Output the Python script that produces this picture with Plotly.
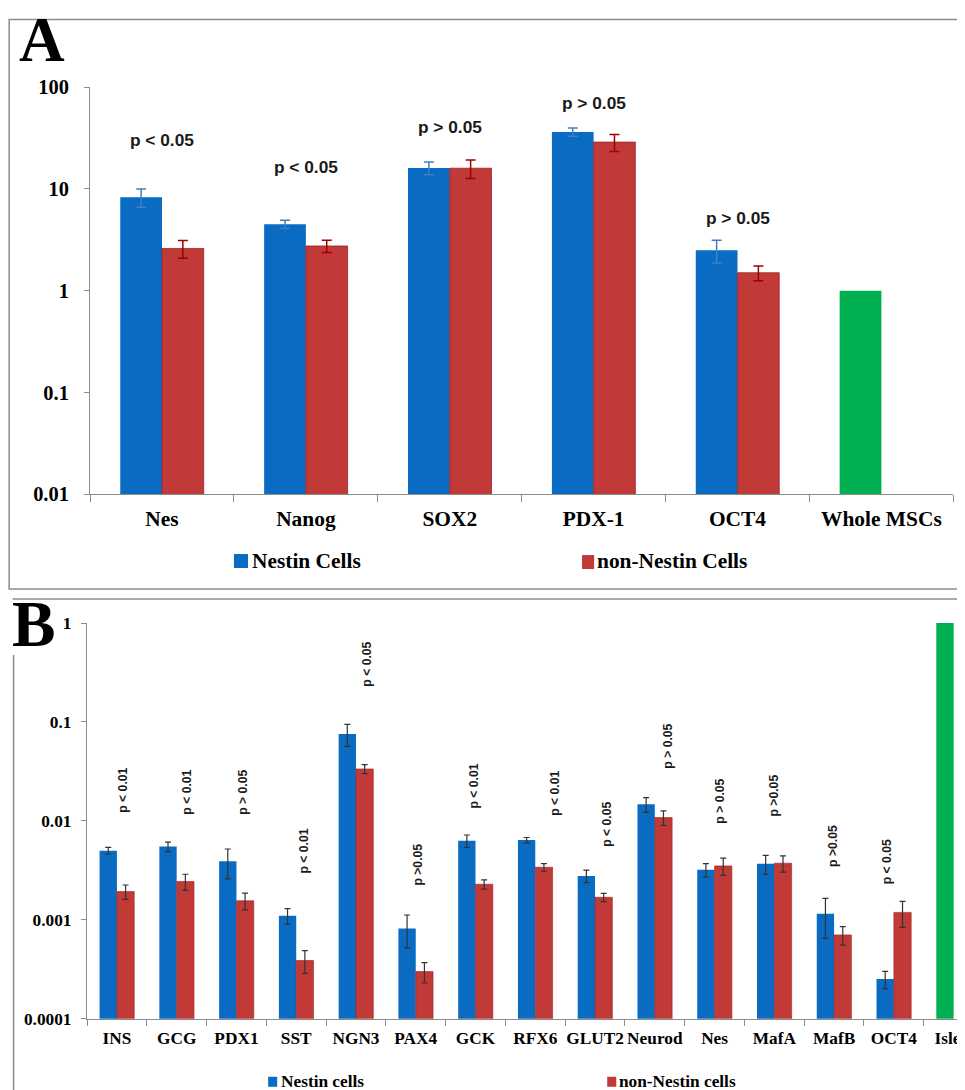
import plotly.graph_objects as go

# ---------------- Panel A data ----------------
genes_a = ["Nes", "Nanog", "SOX2", "PDX-1", "OCT4"]
reference_a = "Whole MSCs"
reference_a_value = 1.0
nestin_a = [8.3, 4.5, 16.1, 36.3, 2.5]
nestin_a_err = [1.7, 0.42, 2.3, 3.4, 0.63]
non_nestin_a = [2.6, 2.75, 16.0, 28.9, 1.5]
non_nestin_a_err = [0.52, 0.38, 3.3, 5.5, 0.25]
p_text_a = ["p < 0.05", "p < 0.05", "p > 0.05", "p > 0.05", "p > 0.05"]
p_label_logy_a = [1.48, 1.22, 1.61, 1.85, 0.71]
yticks_a = [0.01, 0.1, 1, 10, 100]
yticktext_a = ["0.01", "0.1", "1", "10", "100"]

# ---------------- Panel B data ----------------
genes_b = ["INS", "GCG", "PDX1", "SST", "NGN3", "PAX4", "GCK", "RFX6",
           "GLUT2", "Neurod", "Nes", "MafA", "MafB", "OCT4"]
reference_b = "Islets"
reference_b_value = 1.0
nestin_b = [0.0050, 0.0055, 0.0039, 0.0011, 0.0757, 0.00082, 0.0063, 0.0064,
            0.00278, 0.0147, 0.0032, 0.00368, 0.00115, 0.000252]
nestin_b_err = [0.0004, 0.0006, 0.0013, 0.0002, 0.019, 0.0003, 0.0009, 0.0004,
                0.0004, 0.0025, 0.0005, 0.0008, 0.0005, 0.00005]
non_nestin_b = [0.00193, 0.00244, 0.00156, 0.000388, 0.0335, 0.00030, 0.00229, 0.0034,
                0.00169, 0.0108, 0.00351, 0.00374, 0.000705, 0.00119]
non_nestin_b_err = [0.00032, 0.00045, 0.0003, 0.0001, 0.0035, 0.00007, 0.00025, 0.0003,
                    0.00016, 0.0018, 0.0007, 0.0007, 0.00015, 0.00035]
p_text_b = ["p < 0.01", "p < 0.01", "p > 0.05", "p < 0.01", "p < 0.05", "p >0.05", "p < 0.01",
            "p < 0.01", "p < 0.05", "p > 0.05", "p > 0.05", "p >0.05", "p >0.05", "p < 0.05"]
p_label_logy_b = [-1.69, -1.71, -1.71, -2.30, -0.42, -2.44, -1.65, -1.72,
                  -2.03, -1.24, -1.80, -1.74, -2.25, -2.41]
p_label_dx_b = [0.11, 0.18, 0.12, 0.13, 0.17, 0.04, -0.02, 0.34, 0.2, 0.22, 0.1, 0.0, -0.03, -0.1]
yticks_b = [0.0001, 0.001, 0.01, 0.1, 1]
yticktext_b = ["0.0001", "0.001", "0.01", "0.1", "1"]

BLUE = "#0A6BC2"
RED = "#C23A38"
GREEN = "#00B050"
GRAY = "#8C8C8C"
SERIF = "Liberation Serif"
SANS = "Liberation Sans"
W, H = 965, 1090

# the page is photographed slightly scaled; map target screen pixels to paper coords
SX, OX = 0.9908, 8.45
SY, OY = 0.9803, 18.7
FS = 1.02  # font compensation


def px(x):
    return (x - OX) / SX / W


def py(y):
    return 1 - (y - OY) / SY / H


def fs(s):
    return round(s * FS, 1)


fig = go.Figure()

# Panel A bars
fig.add_trace(go.Bar(
    x=genes_a, y=nestin_a, offsetgroup="nestin",
    marker=dict(color=BLUE, line=dict(width=0)),
    error_y=dict(type="data", array=nestin_a_err, color="#3F7FC4", thickness=1.5, width=5),
    xaxis="x", yaxis="y", name="Nestin Cells", showlegend=False))
fig.add_trace(go.Bar(
    x=genes_a, y=non_nestin_a, offsetgroup="non",
    marker=dict(color=RED, line=dict(width=0.8, color="#9A2222")),
    error_y=dict(type="data", array=non_nestin_a_err, color="#A00000", thickness=1.5, width=5),
    xaxis="x", yaxis="y", name="non-Nestin Cells", showlegend=False))
fig.add_trace(go.Bar(
    x=[reference_a], y=[reference_a_value], offsetgroup="nestin",
    marker=dict(color=GREEN, line=dict(width=0)),
    xaxis="x", yaxis="y", name=reference_a, showlegend=False))

# Panel B bars
fig.add_trace(go.Bar(
    x=genes_b, y=nestin_b, offsetgroup="nestin",
    marker=dict(color=BLUE, line=dict(width=0)),
    error_y=dict(type="data", array=nestin_b_err, color="#333333", thickness=1.2, width=3),
    xaxis="x2", yaxis="y2", name="Nestin cells", showlegend=False))
fig.add_trace(go.Bar(
    x=genes_b, y=non_nestin_b, offsetgroup="non",
    marker=dict(color=RED, line=dict(width=0.6, color="#9A2222")),
    error_y=dict(type="data", array=non_nestin_b_err, color="#333333", thickness=1.2, width=3),
    xaxis="x2", yaxis="y2", name="non-Nestin cells", showlegend=False))
fig.add_trace(go.Bar(
    x=[reference_b], y=[reference_b_value], offsetgroup="nestin",
    marker=dict(color=GREEN, line=dict(width=0)),
    xaxis="x2", yaxis="y2", name=reference_b, showlegend=False))

annotations = []
for g, t, ly in zip(genes_a, p_text_a, p_label_logy_a):
    annotations.append(dict(x=g, y=ly, xref="x", yref="y", text=t, showarrow=False,
                            font=dict(family=SANS, size=fs(17), color="#1a1a1a", weight="bold")))
for i, (t, ly, dx) in enumerate(zip(p_text_b, p_label_logy_b, p_label_dx_b)):
    annotations.append(dict(x=i + dx, y=ly, xref="x2", yref="y2", text=t, showarrow=False,
                            textangle=-90,
                            font=dict(family=SANS, size=fs(12), color="#1a1a1a", weight="bold")))

# Panel letters
annotations.append(dict(x=px(17), y=py(40), xref="paper", yref="paper", text="A", showarrow=False,
                        xanchor="left", yanchor="middle",
                        font=dict(family=SERIF, size=fs(62), color="black", weight="bold")))
annotations.append(dict(x=px(10), y=py(624), xref="paper", yref="paper", text="B", showarrow=False,
                        xanchor="left", yanchor="middle",
                        font=dict(family=SERIF, size=fs(64), color="black", weight="bold")))

# Legend texts
leg_font_a = dict(family=SERIF, size=fs(21), color="black", weight="bold")
leg_font_b = dict(family=SERIF, size=fs(17), color="black", weight="bold")
annotations += [
    dict(x=px(249), y=py(561), xref="paper", yref="paper", text="Nestin Cells", showarrow=False,
         xanchor="left", yanchor="middle", font=leg_font_a),
    dict(x=px(592), y=py(561), xref="paper", yref="paper", text="non-Nestin Cells", showarrow=False,
         xanchor="left", yanchor="middle", font=leg_font_a),
    dict(x=px(278), y=py(1082), xref="paper", yref="paper", text="Nestin cells", showarrow=False,
         xanchor="left", yanchor="middle", font=leg_font_b),
    dict(x=px(614), y=py(1082), xref="paper", yref="paper", text="non-Nestin cells", showarrow=False,
         xanchor="left", yanchor="middle", font=leg_font_b),
]

shapes = [
    # Panel A frame
    dict(type="rect", xref="paper", yref="paper", x0=max(px(8), 0.0012), x1=1.05, y0=py(589), y1=0.9995,
         line=dict(color=GRAY, width=1.5), layer="below"),
    # Panel B frame (top and left)
    dict(type="line", xref="paper", yref="paper", x0=px(13), x1=1.05, y0=py(599), y1=py(599),
         line=dict(color=GRAY, width=1.5)),
    dict(type="line", xref="paper", yref="paper", x0=px(14), x1=px(14), y0=py(655), y1=-0.05,
         line=dict(color=GRAY, width=1.5)),
    # legend swatches
    dict(type="rect", xref="paper", yref="paper", x0=px(233), x1=px(247), y0=py(568), y1=py(554),
         fillcolor=BLUE, line=dict(width=0)),
    dict(type="rect", xref="paper", yref="paper", x0=px(579), x1=px(591), y0=py(569), y1=py(555),
         fillcolor=RED, line=dict(width=0)),
    dict(type="rect", xref="paper", yref="paper", x0=px(267), x1=px(276), y0=py(1087), y1=py(1077),
         fillcolor=BLUE, line=dict(width=0)),
    dict(type="rect", xref="paper", yref="paper", x0=px(604), x1=px(613), y0=py(1087), y1=py(1077),
         fillcolor=RED, line=dict(width=0)),
]

axis_common = dict(showgrid=False, zeroline=False, showline=True, linecolor=GRAY, linewidth=1.2,
                   ticks="outside", tickcolor=GRAY, tickwidth=1)

# panel B: category width of 59.4 screen px starting at x=87
xb0 = px(87)
cat_w_b = 59.4 / SX / W
xb_end = -0.5 + (1.0 - xb0) / cat_w_b

fig.update_layout(
    width=W, height=H, margin=dict(l=0, r=0, t=0, b=0),
    paper_bgcolor="white", plot_bgcolor="white",
    barmode="group", bargap=0.42, bargroupgap=0,
    showlegend=False,
    xaxis=dict(domain=[px(90), px(948)], anchor="y", type="category", tickson="boundaries",
               categoryorder="array", categoryarray=genes_a + [reference_a],
               ticklen=7, ticklabelstandoff=5, tickangle=0,
               tickfont=dict(family=SERIF, size=fs(21), color="black", weight="bold"), **axis_common),
    yaxis=dict(domain=[py(494), py(87)], anchor="x", type="log", range=[-2, 2],
               tickvals=yticks_a, ticktext=yticktext_a, ticklen=5, ticklabelstandoff=11,
               tickfont=dict(family=SERIF, size=fs(20), color="black", weight="bold"), **axis_common),
    xaxis2=dict(domain=[xb0, 1.0], anchor="y2", type="category", tickson="boundaries",
                categoryorder="array", categoryarray=genes_b + [reference_b],
                range=[-0.5, xb_end], tickangle=0,
                ticklen=6, ticklabelstandoff=3,
                tickfont=dict(family=SERIF, size=fs(17), color="black", weight="bold"), **axis_common),
    yaxis2=dict(domain=[py(1019), py(623)], anchor="x2", type="log", range=[-4, 0],
                tickvals=yticks_b, ticktext=yticktext_b, ticklen=5, ticklabelstandoff=6,
                tickfont=dict(family=SERIF, size=fs(17), color="black", weight="bold"), **axis_common),
    annotations=annotations,
    shapes=shapes,
)

fig.write_html("out.html")
